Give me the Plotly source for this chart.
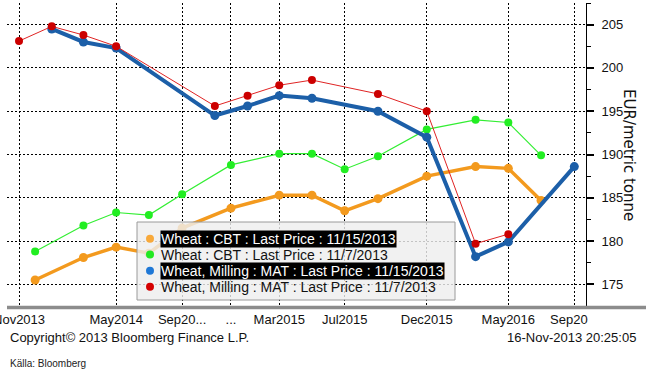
import plotly.graph_objects as go

# ---------------- data ----------------
cbt_dates = ["2013-12-01", "2014-03-01", "2014-05-01", "2014-07-01", "2014-09-01",
             "2014-12-01", "2015-03-01", "2015-05-01", "2015-07-01", "2015-09-01",
             "2015-12-01", "2016-03-01", "2016-05-01", "2016-07-01"]
cbt_nov15 = [175.5, 178.1, 179.3, 178.6, 181.5, 183.8, 185.3, 185.3, 183.5, 184.9,
             187.5, 188.6, 188.4, 184.7]
cbt_nov7 = [178.8, 181.8, 183.3, 183.0, 185.4, 188.8, 190.1, 190.1, 188.3, 189.8,
            192.9, 194.0, 193.7, 189.9]

mat_dates_nov15 = ["2014-01-01", "2014-03-01", "2014-05-01", "2014-11-01", "2015-01-01",
                   "2015-03-01", "2015-05-01", "2015-09-01", "2015-12-01", "2016-03-01",
                   "2016-05-01", "2016-09-01"]
mat_nov15 = [204.5, 203.0, 202.3, 194.5, 195.6, 196.8, 196.5, 195.0, 192.0, 178.2,
             179.9, 188.6]

mat_dates_nov7 = ["2013-11-01", "2014-01-01", "2014-03-01", "2014-05-01", "2014-11-01",
                  "2015-01-01", "2015-03-01", "2015-05-01", "2015-09-01", "2015-12-01",
                  "2016-03-01", "2016-05-01"]
mat_nov7 = [203.1, 204.8, 203.8, 202.5, 195.6, 196.8, 198.0, 198.6, 197.0, 195.0,
            179.7, 180.8]

x_tickvals = ["2013-11-01", "2014-05-01", "2014-09-01", "2014-12-01", "2015-03-01",
              "2015-07-01", "2015-12-01", "2016-05-01", "2016-09-01"]
x_ticktext = ["Nov2013", "May2014", "Sep20...", "...", "Mar2015", "Jul2015",
              "Dec2015", "May2016", "Sep20\u00a0\u00a0\u00a0"]
y_tickvals = [175, 180, 185, 190, 195, 200, 205]

legend_labels = ["Wheat : CBT : Last Price : 11/15/2013",
                 "Wheat : CBT : Last Price : 11/7/2013",
                 "Wheat, Milling : MAT : Last Price : 11/15/2013",
                 "Wheat, Milling : MAT : Last Price : 11/7/2013"]
legend_colors = ["#f8a93a", "#22e822", "#1f78d6", "#d40000"]
legend_highlight = [True, False, True, False]

# ---------------- layout helpers ----------------
W, H = 646, 374
ML, MR, MT, MB = 7, 60, 3, 68
PW, PH = W - ML - MR, H - MT - MB


def px(xp):
    return (xp - ML) / PW


def py(yp):
    return (H - MB - yp) / PH


FONT = "Liberation Sans, Arial, sans-serif"

fig = go.Figure()

fig.add_trace(go.Scatter(x=cbt_dates, y=cbt_nov15, mode="lines+markers",
                         line=dict(color="#f39a1e", width=3.5),
                         marker=dict(color="#f39a1e", size=9), name=legend_labels[0]))
fig.add_trace(go.Scatter(x=cbt_dates, y=cbt_nov7, mode="lines+markers",
                         line=dict(color="#33ee33", width=1.2),
                         marker=dict(color="#22ee22", size=8), name=legend_labels[1]))
fig.add_trace(go.Scatter(x=mat_dates_nov15, y=mat_nov15, mode="lines+markers",
                         line=dict(color="#1c5fa8", width=4),
                         marker=dict(color="#1c5fa8", size=9), name=legend_labels[2]))
fig.add_trace(go.Scatter(x=mat_dates_nov7, y=mat_nov7, mode="lines+markers",
                         line=dict(color="#e02424", width=1),
                         marker=dict(color="#cc0000", size=8), name=legend_labels[3]))

shapes = []
annotations = []

# bottom grey band
shapes.append(dict(type="line", xref="paper", yref="paper", x0=0, x1=px(W + 2),
                   y0=py(307.5), y1=py(307.5), line=dict(color="#8c8c8c", width=3.5),
                   layer="above"))

# legend box
lx0, lx1, ly0, ly1 = 137, 455, 222, 300
shapes.append(dict(type="rect", xref="paper", yref="paper", x0=px(lx0), x1=px(lx1),
                   y0=py(ly1), y1=py(ly0), fillcolor="rgba(238,238,238,0.82)",
                   line=dict(color="#9a9a9a", width=1), layer="above"))
row_y = [238.7, 254.5, 270.7, 286.8]
for i, lab in enumerate(legend_labels):
    shapes.append(dict(type="circle", xref="paper", yref="paper",
                       xsizemode="pixel", ysizemode="pixel",
                       xanchor=px(150), yanchor=py(row_y[i]),
                       x0=-4, x1=4, y0=-4, y1=4,
                       fillcolor=legend_colors[i], line=dict(width=0), layer="above"))
    annotations.append(dict(
        x=px(160), y=py(row_y[i]), xref="paper", yref="paper",
        xanchor="left", yanchor="middle", text=lab, showarrow=False,
        font=dict(family=FONT, size=14,
                  color="white" if legend_highlight[i] else "#111111"),
        bgcolor="black" if legend_highlight[i] else "rgba(0,0,0,0)",
        borderpad=0))

# axis title (rotated, reading top-to-bottom)
annotations.append(dict(x=px(629), y=py(155), xref="paper", yref="paper",
                        text="EUR/metric tonne", textangle=90, showarrow=False,
                        font=dict(family="DejaVu Sans, sans-serif", size=15, color="#111111"),
                        xanchor="center", yanchor="middle"))

# footer texts
annotations.append(dict(x=px(8), y=py(337), xref="paper", yref="paper",
                        text="Copyright\u00a9 2013 Bloomberg Finance L.P.", showarrow=False,
                        xanchor="left", yanchor="middle",
                        font=dict(family=FONT, size=13, color="#111111")))
annotations.append(dict(x=px(638), y=py(337), xref="paper", yref="paper",
                        text="16-Nov-2013 20:25:05", showarrow=False,
                        xanchor="right", yanchor="middle",
                        font=dict(family=FONT, size=13, color="#111111")))
annotations.append(dict(x=px(8), y=py(363), xref="paper", yref="paper",
                        text="Källa: Bloomberg", showarrow=False,
                        xanchor="left", yanchor="middle",
                        font=dict(family=FONT, size=10, color="#222222")))

fig.update_layout(
    width=W, height=H, template="none",
    margin=dict(l=ML, r=MR, t=MT, b=MB, pad=0),
    paper_bgcolor="white", plot_bgcolor="white",
    showlegend=False,
    shapes=shapes, annotations=annotations,
    font=dict(family=FONT, size=13, color="#111111"),
    xaxis=dict(type="date", range=["2013-10-09 14:00", "2016-09-22 19:00"],
               tickmode="array", tickvals=x_tickvals, ticktext=x_ticktext,
               showgrid=True, gridcolor="black", gridwidth=1, griddash="2px,2px",
               ticks="", showline=False, zeroline=False, automargin=False,
               ticklabeloverflow="allow",
               tickfont=dict(family=FONT, size=13, color="#111111"), ticklabelstandoff=4),
    yaxis=dict(side="right", range=[172.5, 207.5], tickmode="array", tickvals=y_tickvals,
               showgrid=True, gridcolor="black", gridwidth=1, griddash="2px,2px",
               showline=True, linecolor="black", linewidth=1, mirror=False,
               ticks="outside", ticklen=7, tickwidth=2, tickcolor="black",
               minor=dict(tickmode="linear", tick0=172.5, dtick=5, ticks="outside",
                          ticklen=4, tickcolor="black", tickwidth=1, showgrid=False),
               zeroline=False, automargin=False, ticklabelstandoff=5,
               tickfont=dict(family=FONT, size=13, color="#111111")),
)

fig.write_html("out.html", config={"displayModeBar": False},
               post_script="document.body.style.margin='0px';document.body.style.padding='0px';")
